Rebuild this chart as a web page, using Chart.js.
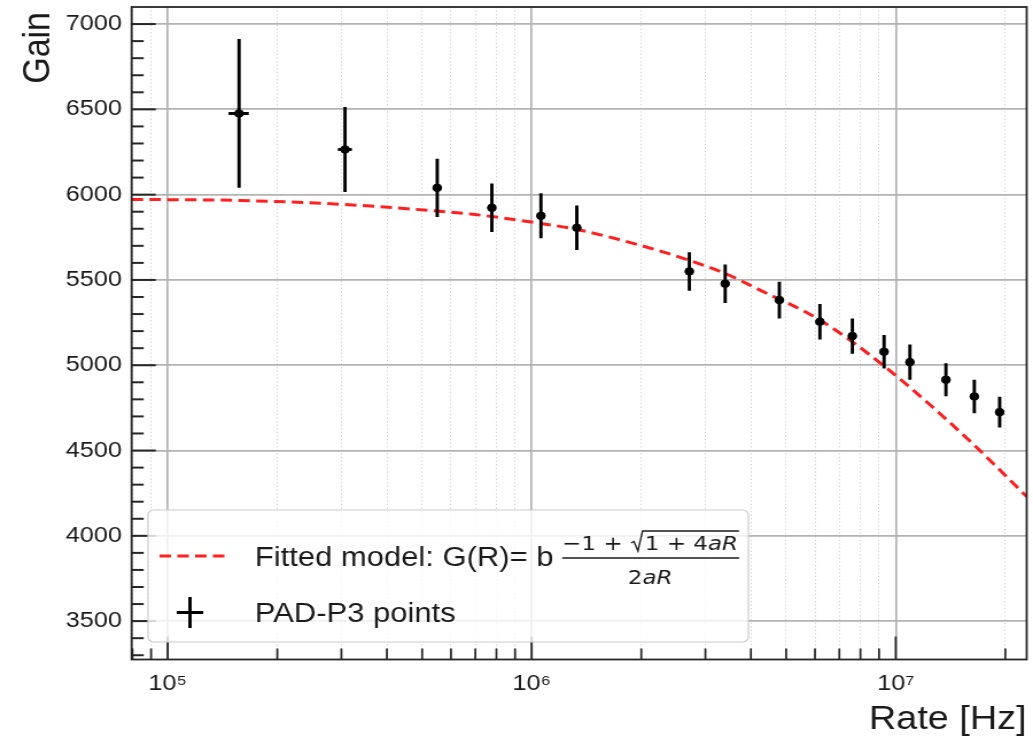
<!DOCTYPE html>
<html>
<head>
<meta charset="utf-8">
<script src="https://cdn.jsdelivr.net/npm/chart.js@4"></script>
<style>
  html, body { margin: 0; padding: 0; background: #fff; overflow: hidden; }
  /* the figure is drawn 900px wide and stretched to the page width */
  #wrap { width: 900px; height: 743px; transform: scaleX(1.14778); transform-origin: 0 0; }
</style>
</head>
<body>
<div id="wrap"><canvas id="grafica" width="900" height="743"></canvas></div>
<script>
// PAD-P3 measurements: rate [Hz], gain, and their errors
var rate    = [1.57e5, 3.07e5, 5.50e5, 7.77e5, 1.06e6, 1.33e6, 2.71e6, 3.40e6,
               4.79e6, 6.19e6, 7.60e6, 9.29e6, 1.094e7, 1.374e7, 1.644e7, 1.93e7];
var rateErr = [10000, 13500, 15000, 15000, 15000, 15000, 15000, 15000,
               15000, 15000, 15000, 15000, 15000, 15000, 15000, 15000];
var gain    = [6476, 6265, 6040, 5923, 5876, 5806, 5550, 5478,
               5382, 5255, 5171, 5079, 5018, 4915, 4817, 4725];
var gainErr = [436, 249, 171, 142, 132, 131, 113, 113,
               108, 104, 103, 98, 103, 97, 98, 90];

// fitted model G(R) = b (-1 + sqrt(1 + 4aR)) / (2aR), sampled along the curve
var fitRate = [7.96e4, 1.57e5, 3.03e5, 5.49e5, 6.77e5, 1.06e6, 1.33e6, 1.98e6,
               2.70e6, 3.40e6, 4.24e6, 6.19e6, 9.29e6, 1.571e7, 2.29e7];
var fitGain = [5972, 5966, 5943, 5904, 5887, 5831, 5796, 5704,
               5616, 5538, 5440, 5265, 4995, 4571, 4230];

// axis ticks
var rateDecades    = [1e5, 1e6, 1e7];
var rateTickLabels = ['10\u2075', '10\u2076', '10\u2077'];
var gainTicks      = [3500, 4000, 4500, 5000, 5500, 6000, 6500, 7000];

var FONT = "'Liberation Sans', Arial, Helvetica, sans-serif";
var MATH = "'DejaVu Sans', sans-serif";
var INK = '#1a1a1a';

var rateMin = 79600, rateMax = 2.29e7;
var gainMin = 3275, gainMax = 7100;

// minor ticks: 2..9 x each decade, major at the decades
var rateTicks = [];
[1e4, 1e5, 1e6, 1e7].forEach(function (d) {
    for (var m = 1; m <= 9; m++) {
        var v = m * d;
        if (v >= rateMin && v <= rateMax) rateTicks.push(v);
    }
});
var gainMinorTicks = [];
for (var g = 3300; g <= 7000; g += 100) gainMinorTicks.push(g);

function isMajorRate(v) { return rateDecades.indexOf(v) >= 0; }
function isMajorGain(v) { return gainTicks.indexOf(v) >= 0; }

function noPadding(s) {
    s.paddingTop = 0;
    s.paddingBottom = 0;
    s.paddingLeft = 0;
    s.paddingRight = 0;
}

// vertical + horizontal error bars under the markers
var errorBars = {
    id: 'errorBars',
    beforeDatasetDraw: function (chart, args) {
        if (args.index !== 0) return;
        var ctx = chart.ctx, a = chart.chartArea;
        var xs = chart.scales.x, ys = chart.scales.y;
        ctx.save();
        ctx.beginPath();
        ctx.rect(a.left, a.top, a.right - a.left, a.bottom - a.top);
        ctx.clip();
        ctx.strokeStyle = '#000';
        ctx.lineWidth = 2.9;
        for (var i = 0; i < rate.length; i++) {
            var px = xs.getPixelForValue(rate[i]);
            var py = ys.getPixelForValue(gain[i]);
            ctx.beginPath();
            ctx.moveTo(px, ys.getPixelForValue(gain[i] - gainErr[i]));
            ctx.lineTo(px, ys.getPixelForValue(gain[i] + gainErr[i]));
            ctx.moveTo(xs.getPixelForValue(rate[i] - rateErr[i]), py);
            ctx.lineTo(xs.getPixelForValue(rate[i] + rateErr[i]), py);
            ctx.stroke();
        }
        ctx.restore();
    }
};

// frame, inward tick marks and the vertical axis label
var frame = {
    id: 'frame',
    afterDatasetsDraw: function (chart) {
        var ctx = chart.ctx, a = chart.chartArea;
        var xs = chart.scales.x, ys = chart.scales.y;
        ctx.save();
        ctx.strokeStyle = '#262626';
        ctx.lineWidth = 1.75;
        xs.ticks.forEach(function (t) {
            var px = xs.getPixelForValue(t.value);
            var len = isMajorRate(t.value) ? 23 : 11;
            ctx.beginPath();
            ctx.moveTo(px, a.bottom);
            ctx.lineTo(px, a.bottom - len);
            ctx.stroke();
        });
        ctx.lineWidth = 2;
        ys.ticks.forEach(function (t) {
            var py = ys.getPixelForValue(t.value);
            var len = isMajorGain(t.value) ? 21 : 10.5;
            ctx.beginPath();
            ctx.moveTo(a.left, py);
            ctx.lineTo(a.left + len, py);
            ctx.stroke();
        });
        ctx.lineWidth = 1.8;
        ctx.strokeRect(a.left, a.top, a.right - a.left, a.bottom - a.top);

        ctx.translate(34, a.top + 5);
        ctx.rotate(-Math.PI / 2);
        ctx.fillStyle = INK;
        ctx.font = '34px ' + FONT;
        ctx.textAlign = 'right';
        ctx.textBaseline = 'middle';
        ctx.fillText('Gain', 0, 0);
        ctx.restore();
    }
};

// legend with the model formula
var formulaLegend = {
    id: 'formulaLegend',
    afterDraw: function (chart) {
        var ctx = chart.ctx;
        var bx = 129, by = 510, bw = 523, bh = 132, r = 5;
        ctx.save();
        ctx.beginPath();
        ctx.moveTo(bx + r, by);
        ctx.arcTo(bx + bw, by, bx + bw, by + bh, r);
        ctx.arcTo(bx + bw, by + bh, bx, by + bh, r);
        ctx.arcTo(bx, by + bh, bx, by, r);
        ctx.arcTo(bx, by, bx + bw, by, r);
        ctx.closePath();
        ctx.fillStyle = 'rgba(255,255,255,0.8)';
        ctx.fill();
        ctx.strokeStyle = '#cccccc';
        ctx.lineWidth = 1.2;
        ctx.stroke();

        // dashed sample for the fit
        var fit = chart.data.datasets[1];
        ctx.strokeStyle = fit.borderColor;
        ctx.lineWidth = fit.borderWidth;
        ctx.setLineDash(fit.borderDash);
        ctx.beginPath();
        ctx.moveTo(139, 556);
        ctx.lineTo(196, 556);
        ctx.stroke();
        ctx.setLineDash([]);

        // cross for the points
        ctx.strokeStyle = '#000';
        ctx.lineWidth = 2.9;
        ctx.beginPath();
        ctx.moveTo(165.5, 597);
        ctx.lineTo(165.5, 628);
        ctx.moveTo(154, 612.5);
        ctx.lineTo(177, 612.5);
        ctx.stroke();

        ctx.fillStyle = INK;
        ctx.textBaseline = 'alphabetic';
        ctx.textAlign = 'left';
        var tx = 222;
        ctx.font = '27px ' + FONT;
        var head = 'Fitted model: G(R)= b';
        ctx.fillText(head, tx, 566);
        ctx.fillText(chart.data.datasets[0].label, tx, 622);

        // fraction
        var fx = tx + ctx.measureText(head + ' ').width;
        var nb = 550, db = 584;
        var x = fx;
        function piece(text, italic) {
            ctx.font = (italic ? 'italic ' : '') + '20px ' + MATH;
            ctx.fillText(text, x, nb);
            x += ctx.measureText(text).width;
        }
        piece('\u22121 + ', false);
        var rx = x + 1;
        x = rx + 12;
        piece('1 + 4', false);
        piece('aR', true);
        var numEnd = x;
        ctx.strokeStyle = INK;
        ctx.lineWidth = 1.3;
        ctx.beginPath();
        ctx.moveTo(rx, nb - 7);
        ctx.lineTo(rx + 2.5, nb - 8.5);
        ctx.lineTo(rx + 6, nb + 1);
        ctx.lineTo(rx + 10, nb - 19);
        ctx.lineTo(numEnd + 1, nb - 19);
        ctx.stroke();

        ctx.lineWidth = 1.5;
        ctx.beginPath();
        ctx.moveTo(fx, 558);
        ctx.lineTo(numEnd + 1, 558);
        ctx.stroke();

        ctx.font = '20px ' + MATH;
        var w2 = ctx.measureText('2').width;
        ctx.font = 'italic 20px ' + MATH;
        var wAR = ctx.measureText('aR').width;
        var dx = (fx + numEnd) / 2 - (w2 + wAR) / 2;
        ctx.font = '20px ' + MATH;
        ctx.fillText('2', dx, db);
        ctx.font = 'italic 20px ' + MATH;
        ctx.fillText('aR', dx + w2, db);
        ctx.restore();
    }
};

var ctx = document.getElementById('grafica').getContext('2d');
new Chart(ctx, {
    type: 'scatter',
    data: {
        datasets: [{
            label: 'PAD-P3 points',
            data: rate.map(function (r, i) { return {x: r, y: gain[i]}; }),
            backgroundColor: '#000',
            borderColor: '#000',
            pointRadius: 3.8,
            pointHoverRadius: 3.8,
            order: 0
        }, {
            type: 'line',
            label: 'Fitted model',
            data: fitRate.map(function (r, i) { return {x: r, y: fitGain[i]}; }),
            borderColor: '#ff1f1f',
            borderWidth: 3,
            borderDash: [10, 5.5],
            pointRadius: 0,
            fill: false,
            cubicInterpolationMode: 'monotone',
            order: 1
        }]
    },
    options: {
        responsive: false,
        animation: false,
        devicePixelRatio: 1,
        events: [],
        layout: { padding: { top: 7, right: 5.5, left: 0, bottom: 0 } },
        plugins: { legend: { display: false }, tooltip: { enabled: false } },
        scales: {
            x: {
                type: 'logarithmic',
                min: rateMin,
                max: rateMax,
                afterBuildTicks: function (s) {
                    s.ticks = rateTicks.map(function (v) { return {value: v, major: isMajorRate(v)}; });
                },
                afterFit: function (s) { s.height = 83.5; noPadding(s); },
                grid: {
                    drawTicks: false,
                    color: function (c) { return c.tick && isMajorRate(c.tick.value) ? '#b3b3b3' : '#cfcfcf'; },
                    lineWidth: function (c) { return c.tick && isMajorRate(c.tick.value) ? 1.75 : 1; }
                },
                border: {
                    display: false,
                    dash: function (c) { return c.tick && isMajorRate(c.tick.value) ? [] : [1.2, 2.4]; }
                },
                ticks: {
                    autoSkip: false,
                    maxRotation: 0,
                    padding: 11,
                    color: INK,
                    font: { family: FONT, size: 22 },
                    callback: function (v) {
                        var k = rateDecades.indexOf(v);
                        return k >= 0 ? rateTickLabels[k] : '';
                    }
                },
                title: {
                    display: true,
                    text: 'Rate [Hz]',
                    align: 'end',
                    color: INK,
                    font: { family: FONT, size: 33 },
                    padding: { top: 0, bottom: 3 }
                }
            },
            y: {
                min: gainMin,
                max: gainMax,
                afterBuildTicks: function (s) {
                    s.ticks = gainMinorTicks.map(function (v) { return {value: v}; });
                },
                afterFit: function (s) { s.width = 114.7; noPadding(s); },
                grid: {
                    drawTicks: false,
                    color: function (c) { return c.tick && isMajorGain(c.tick.value) ? '#b3b3b3' : 'rgba(0,0,0,0)'; },
                    lineWidth: 1.75
                },
                border: { display: false },
                ticks: {
                    autoSkip: false,
                    padding: 8.5,
                    color: INK,
                    font: { family: FONT, size: 22 },
                    callback: function (v) { return isMajorGain(v) ? String(v) : ''; }
                }
            }
        }
    },
    plugins: [errorBars, frame, formulaLegend]
});
</script>
</body>
</html>
